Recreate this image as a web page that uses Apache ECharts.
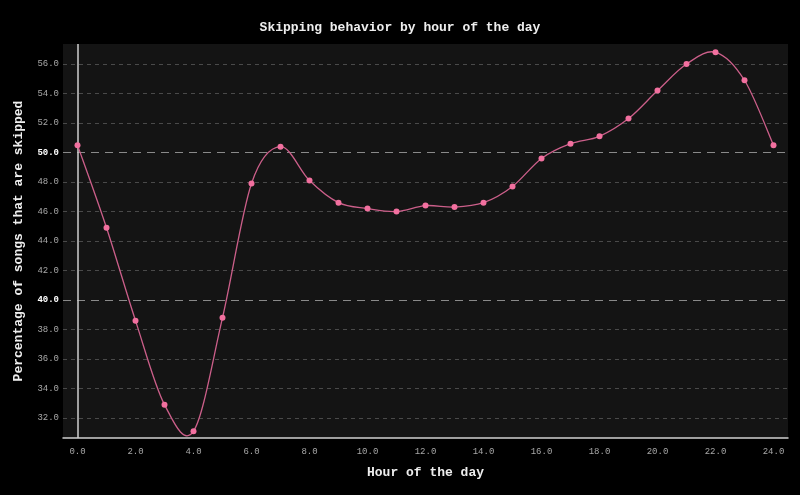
<!doctype html>
<html>
<head>
<meta charset="UTF-8">
<title>Skipping behavior by hour of the day</title>
<script src="https://cdn.jsdelivr.net/npm/echarts@6/dist/echarts.min.js"></script>
<style>
  html, body { margin: 0; padding: 0; background: #000; }
  #main { width: 800px; height: 495px; }
</style>
</head>
<body>
<div id="main"></div>
<script>
// hour of the day and share of songs skipped (%)
var hours = [0, 1, 2, 3, 4, 5, 6, 7, 8, 9, 10, 11, 12, 13, 14, 15, 16, 17, 18, 19, 20, 21, 22, 23, 24];
var skipPct = [50.5, 44.9, 38.6, 32.9, 31.1, 38.8, 47.9, 50.4, 48.1, 46.6, 46.2, 46.0, 46.4, 46.3, 46.6,
               47.7, 49.6, 50.6, 51.1, 52.3, 54.2, 56.0, 56.8, 54.9, 50.5];
var yTicks = [32, 34, 36, 38, 40, 42, 44, 46, 48, 50, 52, 54, 56];
var majorTicks = [40, 50];

var mono = 'Liberation Mono';
var points = hours.map(function (h, i) { return [h, skipPct[i]]; });

var gridLines = [];
yTicks.forEach(function (v) {
    var major = majorTicks.indexOf(v) >= 0;
    gridLines.push({
        yAxis: v,
        lineStyle: major
            ? { color: '#8a8a8a', width: 1.2, type: [8, 6] }
            : { color: '#4a4a4a', width: 1, type: [4, 4] }
    });
});
gridLines.push({ xAxis: 0, lineStyle: { color: '#cfcfcf', width: 1.5, type: 'solid' } });

// cardinal spline (tension 0) through the points, in pixel space
function splinePath(api) {
    var p = points.map(function (d) { return api.coord(d); });
    var n = p.length;
    var d = 'M' + p[0][0] + ',' + p[0][1];
    for (var i = 0; i < n - 1; i++) {
        var p0 = p[i > 0 ? i - 1 : i];
        var p1 = p[i];
        var p2 = p[i + 1];
        var p3 = p[i + 2 < n ? i + 2 : i + 1];
        var c1x = p1[0] + (p2[0] - p0[0]) / 6, c1y = p1[1] + (p2[1] - p0[1]) / 6;
        var c2x = p2[0] - (p3[0] - p1[0]) / 6, c2y = p2[1] - (p3[1] - p1[1]) / 6;
        d += 'C' + c1x + ',' + c1y + ' ' + c2x + ',' + c2y + ' ' + p2[0] + ',' + p2[1];
    }
    return d;
}

var myChart = echarts.init(document.getElementById('main'));

var option = {
    backgroundColor: '#000',
    animation: false,
    title: {
        text: 'Skipping behavior by hour of the day',
        left: 'center',
        top: 16,
        textStyle: { color: '#eeeeee', fontFamily: mono, fontWeight: 'bold', fontSize: 13 }
    },
    grid: {
        left: 63, right: 12, top: 44, bottom: 57,
        show: true, backgroundColor: '#141414', borderWidth: 0
    },
    xAxis: {
        type: 'value',
        min: -0.5,
        max: 24.5,
        splitNumber: 12,
        name: 'Hour of the day',
        nameLocation: 'middle',
        nameGap: 28,
        nameTextStyle: { color: '#eeeeee', fontFamily: mono, fontWeight: 'bold', fontSize: 13 },
        axisLine: { lineStyle: { color: '#cfcfcf', width: 1.5 } },
        axisTick: { show: false },
        splitLine: { show: false },
        axisLabel: {
            color: '#a8a8a8', fontFamily: mono, fontSize: 9, margin: 9,
            formatter: function (v) {
                return Math.abs(v / 2 - Math.round(v / 2)) < 1e-6 ? v.toFixed(1) : '';
            }
        }
    },
    yAxis: {
        type: 'value',
        min: 30.64,
        max: 57.36,
        splitNumber: 13,
        name: 'Percentage of songs that are skipped',
        nameLocation: 'middle',
        nameGap: 38,
        nameTextStyle: { color: '#eeeeee', fontFamily: mono, fontWeight: 'bold', fontSize: 13 },
        axisLine: { show: false },
        axisTick: { show: false },
        splitLine: { show: false },
        axisLabel: {
            color: '#a8a8a8', fontFamily: mono, fontSize: 9, margin: 4,
            formatter: function (v) {
                var r = Math.round(v);
                if (Math.abs(v - r) > 1e-6 || r % 2 !== 0) return '';
                return majorTicks.indexOf(r) >= 0 ? '{b|' + v.toFixed(1) + '}' : v.toFixed(1);
            },
            rich: {
                b: { color: '#ffffff', fontFamily: mono, fontWeight: 'bold', fontSize: 9 }
            }
        }
    },
    series: [
        {
            type: 'custom',
            data: [[0, 50]],
            z: 4,
            silent: true,
            renderItem: function (params, api) {
                return {
                    type: 'path',
                    shape: { pathData: splinePath(api) },
                    style: { fill: 'none', stroke: '#cc5f8a', lineWidth: 1.3 }
                };
            }
        },
        {
            type: 'scatter',
            data: points,
            symbol: 'circle',
            symbolSize: 6,
            itemStyle: { color: '#f2709f', opacity: 1 },
            z: 5,
            markLine: {
                silent: true,
                symbol: 'none',
                label: { show: false },
                z: 1,
                data: gridLines
            }
        }
    ]
};

myChart.setOption(option);
</script>
</body>
</html>
